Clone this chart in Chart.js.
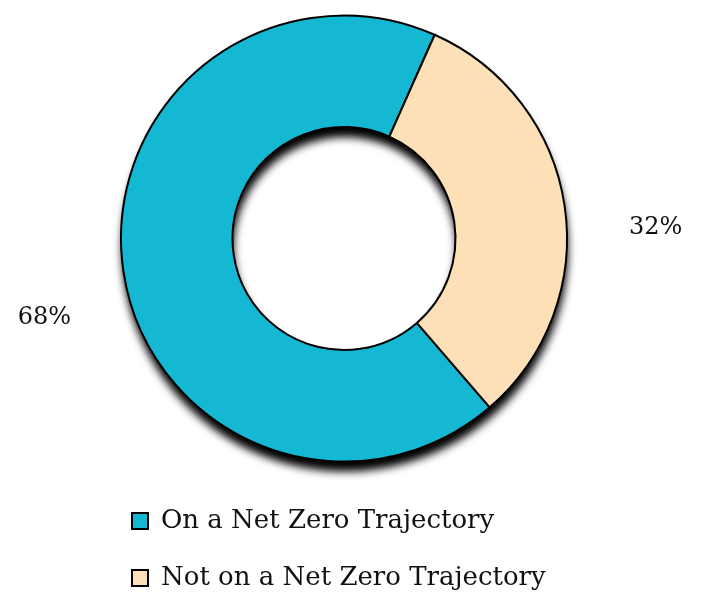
<!DOCTYPE html>
<html>
<head>
<meta charset="utf-8">
<script src="https://cdn.jsdelivr.net/npm/chart.js@4.4.0/dist/chart.umd.min.js"></script>
<style>
  html, body { margin: 0; padding: 0; background: #fff; }
  #wrap { width: 704px; height: 592px; position: relative; }
</style>
</head>
<body>
<div id="wrap"><canvas id="stat"></canvas></div>
<script>
var labels = ['On a Net Zero Trajectory', 'Not on a Net Zero Trajectory'];
var values = [68, 32];
var colors = ['#14B8D3', '#FDDFB8'];

// shadow under the ring, drawn before the slices so borders stay clean
const ringShadow = {
  id: 'ringShadow',
  beforeDatasetsDraw(chart) {
    const arc = chart.getDatasetMeta(0).data[0];
    if (!arc) return;
    const p = arc.getProps(['x', 'y', 'outerRadius', 'innerRadius'], true);
    const ctx = chart.ctx;
    ctx.save();
    ctx.shadowColor = 'rgba(0,0,0,1)';
    ctx.shadowBlur = 8;
    ctx.shadowOffsetX = 1;
    ctx.shadowOffsetY = 10;
    ctx.beginPath();
    ctx.arc(p.x, p.y, p.outerRadius, 0, Math.PI * 2);
    ctx.arc(p.x, p.y, p.innerRadius, 0, Math.PI * 2, true);
    ctx.fillStyle = '#fff';
    ctx.fill('evenodd');
    ctx.restore();
  }
};

// percentage labels outside the ring
const outLabels = {
  id: 'outLabels',
  afterDraw(chart) {
    const ctx = chart.ctx;
    ctx.save();
    ctx.font = '24px "DejaVu Serif", serif';
    ctx.fillStyle = '#111';
    ctx.textAlign = 'center';
    ctx.textBaseline = 'middle';
    chart.getDatasetMeta(0).data.forEach(function(a, i) {
      const p = a.getProps(['x', 'y', 'startAngle', 'endAngle', 'outerRadius'], true);
      const mid = (p.startAngle + p.endAngle) / 2;
      const r = p.outerRadius + 86;
      ctx.fillText(values[i] + '%', p.x + Math.cos(mid) * r + 6, p.y + Math.sin(mid) * r + 34);
    });
    ctx.restore();
  }
};

new Chart(document.getElementById('stat').getContext('2d'), {
  type: 'doughnut',
  data: {
    labels: labels,
    datasets: [{
      data: values,
      backgroundColor: colors,
      borderColor: '#000',
      borderWidth: 2,
      hoverOffset: 0
    }]
  },
  options: {
    responsive: true,
    maintainAspectRatio: false,
    animation: false,
    rotation: 139.2,
    radius: 223,
    cutout: '50%',
    layout: { padding: { left: 101, right: 117, top: -10, bottom: -9 } },
    plugins: {
      tooltip: { enabled: false },
      legend: {
        position: 'bottom',
        align: 'start',
        labels: {
          boxWidth: 16,
          boxHeight: 16,
          padding: 31,
          color: '#111',
          font: { family: '"DejaVu Serif", serif', size: 26 }
        }
      }
    }
  },
  plugins: [ringShadow, outLabels]
});
</script>
</body>
</html>
